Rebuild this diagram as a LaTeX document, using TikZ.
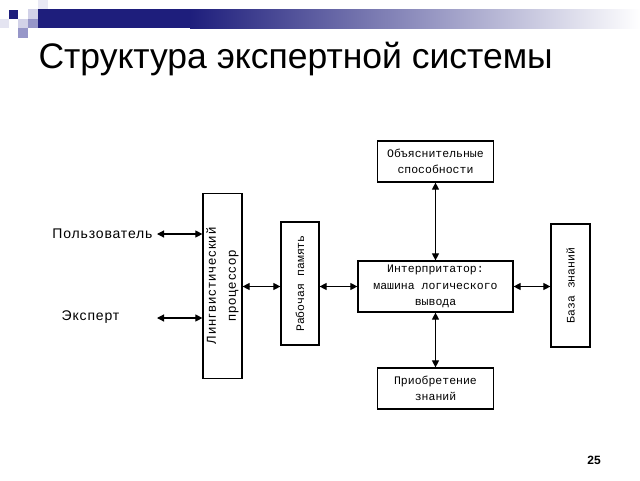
\documentclass[tikz,border=0pt]{standalone}
\usepackage{fontspec}
\setmainfont{Liberation Sans}
\newfontfamily\boxfont{Liberation Mono}
\usetikzlibrary{arrows.meta,positioning}
\definecolor{navy}{RGB}{30,30,124}
\definecolor{lilac}{RGB}{150,150,200}
\definecolor{palelilac}{RGB}{210,210,232}

\begin{document}
\begin{tikzpicture}[x=1pt,y=-1pt,
    >={Triangle[length=7pt,width=7pt]},
    block/.style={draw,line width=1.2pt,inner sep=0pt,align=center,
        font=\boxfont\fontsize{11.5}{16.5}\selectfont},
    link/.style={<->,line width=1.1pt}]
    \useasboundingbox (0,0) rectangle (640,480);
    % header
    \fill[navy] (38,9) rectangle (190,28);
    \shade[left color=navy,right color=white] (190,9) rectangle (640,28);
    \fill[navy] (9,10) rectangle (18,19);
    \fill[palelilac] (28,9) rectangle (38,19);
    \fill[palelilac!50] (38,0) rectangle (48,9);
    \fill[palelilac] (18,19) rectangle (28,28);
    \fill[lilac] (28,19) rectangle (38,28);
    \fill[lilac] (18,28) rectangle (28,38);
    \fill[palelilac!60] (0,19) rectangle (9,28);
    \node[anchor=base west,font=\fontsize{35.5}{40}\selectfont] (title) at (35,68) {Структура экспертной системы};
    % blocks
    \node[block,rotate=90,minimum width=185pt,minimum height=39pt,
        font=\addfontfeatures{LetterSpace=8}\fontsize{13}{20}\selectfont] (ling) at (222.5,286) {Лингвистический\\процессор};
    \node[block,rotate=90,minimum width=123pt,minimum height=38pt] (work) at (300,283.5) {Рабочая память};
    \node[block,minimum width=155pt,minimum height=51pt] (interp) at (435.5,286.5) {Интерпритатор:\\машина логического\\вывода};
    \node[block,minimum width=116pt,minimum height=41pt] (expl) at (435.5,161.5) {Объяснительные\\способности};
    \node[block,minimum width=116pt,minimum height=41pt] (acq) at (435.5,388.5) {Приобретение\\знаний};
    \node[block,rotate=90,minimum width=123pt,minimum height=39pt] (kb) at (570.5,285.5) {База~знаний};
    % people
    \node[font=\addfontfeatures{LetterSpace=6}\fontsize{14}{16}\selectfont] (user) at (102.5,234) {Пользователь};
    \node[font=\addfontfeatures{LetterSpace=6}\fontsize{14}{16}\selectfont] (expert) at (90.5,317) {Эксперт};
    \coordinate (userend) at (157,234);
    \coordinate (expertend) at (157,318);
    \node[font=\bfseries\fontsize{12}{14}\selectfont] (page) at (594,460) {25};
    % links
    \draw[link] (userend) -- (ling.north |- userend);
    \draw[link] (expertend) -- (ling.north |- expertend);
    \draw[link] (ling.south |- interp.west) -- (work.north |- interp.west);
    \draw[link] (work.south |- interp.west) -- (interp.west);
    \draw[link] (interp.east) -- (kb.north |- interp.east);
    \draw[link] (expl.south) -- (interp.north);
    \draw[link] (interp.south) -- (acq.north);
\end{tikzpicture}
\end{document}
